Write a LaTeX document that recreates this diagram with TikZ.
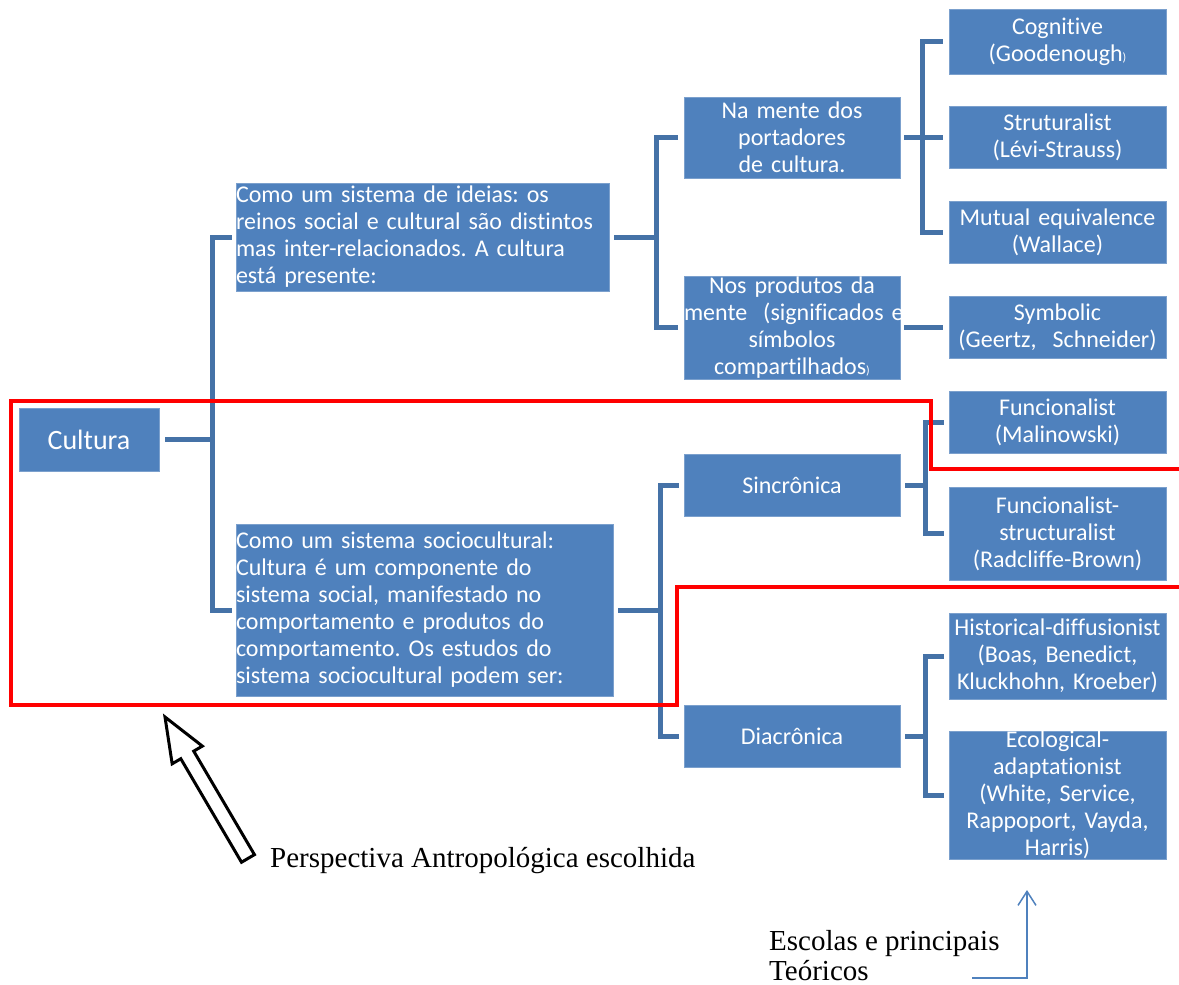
\documentclass[tikz,border=0pt]{standalone}
\usepackage{fontspec}
\setmainfont{Liberation Serif}
\newfontfamily\calibri[Ligatures=NoCommon]{Carlito}
\usepackage{xcolor}
\usetikzlibrary{
  arrows.meta,
  positioning
}

\definecolor{boxblue}{RGB}{79,129,189}
\definecolor{linkblue}{RGB}{69,114,167}
\definecolor{markred}{RGB}{255,0,0}

\tikzset{
  box/.style={fill=boxblue, draw=boxblue!75!white, line width=0.8pt, text=white,
    inner sep=0pt, align=center, font=\calibri\fontsize{24}{27}\selectfont\frenchspacing},
  link/.style={draw=linkblue, line width=5pt},
  pointer/.style={draw=boxblue, line width=1.5pt, -{Straight Barb[length=14pt,width=18pt]}},
  note/.style={inner sep=0pt, align=left, font=\fontsize{29}{30}\selectfont}
}
\newcommand{\tinyparen}{{\fontsize{12}{12}\selectfont)}}

\begin{document}
\begin{tikzpicture}[x=1pt, y=-1pt]
\useasboundingbox (0,0) rectangle (1179,985);

% root and first level
\node[box, text width=140pt, minimum height=63pt, font=\calibri\fontsize{28}{30}\selectfont]
  (cultura) at (89,439.5) {Cultura};
\node[box, text width=373pt, minimum height=108pt, align=left] (ideias) at (422.5,237)
  {Como um sistema de ideias: os\\reinos social e cultural são distintos\\mas inter-relacionados. A cultura\\está presente:};
\node[box, text width=377pt, minimum height=172pt, align=left] (socio) at (424.5,610)
  {Como um sistema sociocultural:\\Cultura é um componente do\\sistema social, manifestado no\\comportamento e produtos do\\comportamento. Os estudos do\\sistema sociocultural podem ser:};

% second level
\node[box, text width=216pt, minimum height=81pt] (mente) at (792,137.5)
  {Na mente dos\\portadores\\de cultura.};
\node[box, text width=216pt, minimum height=103pt] (produtos) at (792,327.5)
  {Nos produtos da\\\mbox{mente\ \ (significados e}\\símbolos\\compartilhados\tinyparen};
\node[box, text width=216pt, minimum height=62pt] (sincronica) at (792,485.5) {Sincrônica};
\node[box, text width=216pt, minimum height=62pt] (diacronica) at (792,736.5) {Diacrônica};

% schools
\node[box, text width=217pt, minimum height=65pt] (cognitive) at (1057.5,41.5)
  {Cognitive\\(Goodenough\tinyparen};
\node[box, text width=217pt, minimum height=62pt] (strutural) at (1057.5,137.5)
  {Struturalist\\(Lévi-Strauss)};
\node[box, text width=217pt, minimum height=62pt] (mutual) at (1057.5,232.5)
  {Mutual equivalence\\(Wallace)};
\node[box, text width=217pt, minimum height=62pt] (symbolic) at (1057.5,327.5)
  {Symbolic\\(Geertz,\ \ Schneider)};
\node[box, text width=217pt, minimum height=62pt] (funcional) at (1057.5,422)
  {Funcionalist\\(Malinowski)};
\node[box, text width=217pt, minimum height=93pt] (radcliffe) at (1057.5,533.5)
  {Funcionalist-\\structuralist\\(Radcliffe-Brown)};
\node[box, text width=217pt, minimum height=86pt] (historical) at (1057.5,656)
  {Historical-diffusionist\\(Boas, Benedict,\\Kluckhohn, Kroeber)};
\node[box, text width=217pt, minimum height=126pt] (ecological) at (1057.5,795)
  {Ecological-\\adaptationist\\(White, Service,\\Rappoport, Vayda,\\Harris)};

% tree links
\draw[link] ([xshift=6pt]cultura.east) -- ++(47,0) coordinate (cjoin);
\draw[link] ([xshift=-4pt]ideias.west) -| (cjoin) |- ([xshift=-4pt]socio.west);
\draw[link] ([xshift=5pt]ideias.east) -- ++(42,0) coordinate (ijoin);
\draw[link] ([xshift=-6pt]mente.west) -| (ijoin) |- ([xshift=-6pt]produtos.west);
\draw[link] ([xshift=5pt]socio.east) -- ++(42,0) coordinate (sjoin);
\draw[link] ([xshift=-5pt]sincronica.west) -| (sjoin) |- ([xshift=-5pt]diacronica.west);
\draw[link] ([xshift=4pt]mente.east) -- ([xshift=-6pt]strutural.west);
\draw[link] ([xshift=-6pt]cognitive.west) -| ([xshift=22pt]mente.east) |- ([xshift=-6pt]mutual.west);
\draw[link] ([xshift=4pt]produtos.east) -- ([xshift=-6pt]symbolic.west);
\draw[link] ([xshift=5pt]sincronica.east) -- ++(20,0) coordinate (njoin);
\draw[link] ([xshift=-5pt]funcional.west) -| (njoin) |- ([xshift=-5pt]radcliffe.west);
\draw[link] ([xshift=5pt]diacronica.east) -- ++(20,0) coordinate (djoin);
\draw[link] ([xshift=-5pt]historical.west) -| (djoin) |- ([xshift=-5pt]ecological.west);

% chosen perspective
\draw[markred, line width=4pt] (1185,469) -- (931,469) -- (931,401) -- (11,401)
  -- (11,705) -- (677,705) -- (677,587) -- (1185,587);
\draw[line width=3pt, fill=white, shift={(165,717)}, rotate=120.4]
  (0,0) -- (-44,17.5) -- (-44,7.5) -- (-164,7.5) -- (-164,-7.5) -- (-44,-7.5) -- (-44,-17.5) -- cycle;
\node[note, anchor=base west] (persp) at (270,867) {Perspectiva Antropológica escolhida};

% schools label
\node[note, anchor=base west] (escolas) at (769,980) {Escolas e principais\\Teóricos};
\coordinate (ptail) at (972,978);
\coordinate (ptip) at (1027,890);
\draw[pointer] (ptail) -| (ptip);
\end{tikzpicture}
\end{document}
